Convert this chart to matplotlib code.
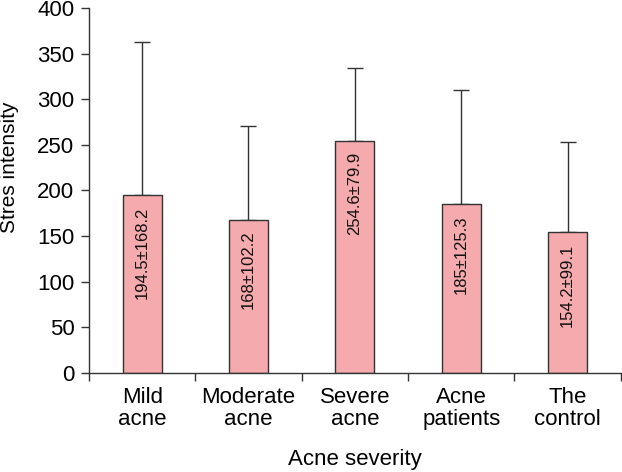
import matplotlib.pyplot as plt
import numpy as np

plt.rcParams['font.family'] = ['Liberation Sans', 'DejaVu Sans']

categories = ['Mild\nacne', 'Moderate\nacne', 'Severe\nacne', 'Acne\npatients', 'The\ncontrol']
means = [194.5, 168, 254.6, 185, 154.2]
sds = [168.2, 102.2, 79.9, 125.3, 99.1]
labels = ['194.5±168.2', '168±102.2', '254.6±79.9', '185±125.3', '154.2±99.1']

fig = plt.figure(figsize=(6.22, 4.72), dpi=100)
ax = fig.add_axes([0.143, 0.21, 0.855, 0.773])

x = np.arange(len(categories))
ax.bar(x, means, width=0.367, color='#f5aaad', edgecolor='#333333', linewidth=1.0, zorder=2)
ax.errorbar(x, means, yerr=[np.zeros(len(sds)), sds], fmt='none', ecolor='#333333',
            elinewidth=1.0, capsize=5.8, capthick=1.0, zorder=1)

# value labels sit just under the top of each bar
for xi, m, lab in zip(x, means, labels):
    ax.annotate(lab, (xi, m), xytext=(0, -8), textcoords='offset points',
                rotation=90, ha='center', va='top', fontsize=12, color='#111111', zorder=3)

ax.set_xlim(-0.5, len(categories) - 0.5)
ax.set_ylim(0, 400)
ax.set_yticks(np.arange(0, 401, 50))
ax.set_xticks(np.arange(-0.5, len(categories), 1.0))
ax.set_xticklabels([])
ax.set_xticks(x, minor=True)
ax.set_xticklabels(categories, minor=True, fontsize=16, linespacing=1.05)
ax.tick_params(axis='x', which='minor', length=0, pad=10)
ax.tick_params(axis='x', which='major', length=6, width=1.0, direction='out', color='#333333')
ax.tick_params(axis='y', length=5.5, width=1.0, direction='out', color='#333333', labelsize=16, pad=5)

for s in ['top', 'right']:
    ax.spines[s].set_visible(False)
for s in ['left', 'bottom']:
    ax.spines[s].set_color('#333333')
    ax.spines[s].set_linewidth(1.0)

ax.set_ylabel('Stres intensity', fontsize=15, va='center')
ax.yaxis.set_label_coords(-0.150, 0.564)
fig.text(0.5708, 1 - 460 / 472, 'Acne severity', fontsize=16, ha='center', va='center')

fig.savefig('out.png', dpi=100)
